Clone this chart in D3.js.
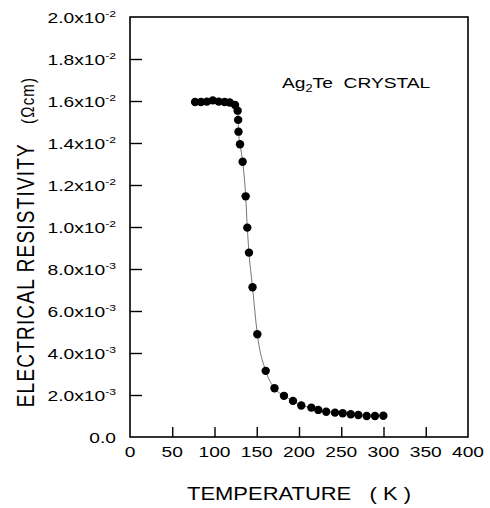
<!DOCTYPE html>
<html>
<head>
<meta charset="utf-8">
<script src="https://cdn.jsdelivr.net/npm/d3@7"></script>
<style>
  html, body { margin: 0; padding: 0; background: #fff; }
  svg text { font-family: "Liberation Sans", Arial, sans-serif; fill: #000; white-space: pre; }
</style>
</head>
<body>
<svg id="chart" width="490" height="508"></svg>
<script>
// temperature (K) and resistivity (ohm cm)
const temps = [77, 84, 91, 98, 105, 112, 118, 124.3, 127.4, 128.0, 128.4, 130.2, 133.3,
  136.9, 138.8, 140.8, 145, 150.7, 160.6, 171, 182.2, 192.9, 202.7, 214.6, 222.8,
  232.2, 242.6, 251.7, 261.2, 270.2, 280.1, 289.9, 299.8];
const rho = [0.01595, 0.01595, 0.01597, 0.01603, 0.01597, 0.01595, 0.01593, 0.01581,
  0.01554, 0.01510, 0.01454, 0.01394, 0.01311, 0.01146, 0.00997, 0.00878, 0.00713,
  0.00489, 0.00315, 0.00232, 0.00196, 0.00172, 0.00150, 0.00140, 0.00129, 0.00120,
  0.00116, 0.00113, 0.00108, 0.00105, 0.00100, 0.00100, 0.00101];

const xTicks = [0, 50, 100, 150, 200, 250, 300, 350, 400];
const yTicks = [0, 0.002, 0.004, 0.006, 0.008, 0.010, 0.012, 0.014, 0.016, 0.018, 0.020];
const yMantissa = ["0.0", "2.0x10", "4.0x10", "6.0x10", "8.0x10", "1.0x10", "1.2x10", "1.4x10", "1.6x10", "1.8x10", "2.0x10"];
const yExp = ["", "-3", "-3", "-3", "-3", "-2", "-2", "-2", "-2", "-2", "-2"];

const plotL = 130, plotR = 468, plotT = 17, plotB = 437;
const stretch = 1.28;   // the original lettering is wide

const svg = d3.select("#chart");

const x = d3.scaleLinear().domain([0, 400]).range([plotL, plotR]);
const y = d3.scaleLinear().domain([0, 0.02]).range([plotB, plotT]);

// frame
svg.append("rect")
  .attr("x", plotL).attr("y", plotT)
  .attr("width", plotR - plotL).attr("height", plotB - plotT)
  .attr("fill", "none").attr("stroke", "#000").attr("stroke-width", 1.6);

// inward ticks
const xAxis = d3.axisBottom(x)
  .tickValues(xTicks.slice(1, -1))
  .tickSizeInner(-10).tickSizeOuter(0)
  .tickFormat("");
svg.append("g").attr("transform", "translate(0," + plotB + ")").call(xAxis)
  .call(g => g.select(".domain").remove())
  .selectAll("line").attr("stroke-width", 1.4);

const yAxis = d3.axisLeft(y)
  .tickValues(yTicks.slice(1, -1))
  .tickSizeInner(-12).tickSizeOuter(0)
  .tickFormat("");
svg.append("g").attr("transform", "translate(" + plotL + ",0)").call(yAxis)
  .call(g => g.select(".domain").remove())
  .selectAll("line").attr("stroke-width", 1.4);

// x tick labels
xTicks.forEach(t => {
  svg.append("g").attr("transform", "translate(" + x(t) + ",457)")
    .append("text")
    .attr("transform", "scale(" + stretch + ",1)")
    .attr("text-anchor", "middle")
    .attr("font-size", 15)
    .text(t);
});

// y tick labels with powers of ten
yTicks.forEach((v, i) => {
  const t = svg.append("g").attr("transform", "translate(116," + (y(v) + 6) + ")")
    .append("text")
    .attr("transform", "scale(" + stretch + ",1)")
    .attr("text-anchor", "end")
    .attr("font-size", 15);
  t.append("tspan").text(yMantissa[i]);
  if (yExp[i]) {
    t.append("tspan").attr("font-size", 9.5).attr("dy", -6.5).text(yExp[i]);
  }
});

// fitted line + points
const line = d3.line()
  .x((d, i) => x(temps[i]))
  .y(d => y(d))
  .curve(d3.curveMonotoneX);
svg.append("path")
  .attr("d", line(rho))
  .attr("fill", "none")
  .attr("stroke", "#666")
  .attr("stroke-width", 0.9);

svg.selectAll(".pt")
  .data(rho)
  .enter().append("circle")
  .attr("class", "pt")
  .attr("cx", (d, i) => x(temps[i]))
  .attr("cy", d => y(d))
  .attr("r", 4.2)
  .attr("fill", "#000");

// sample label
const lab = svg.append("g").attr("transform", "translate(282,88)")
  .append("text")
  .attr("transform", "scale(" + stretch + ",1)")
  .attr("font-size", 15);
lab.append("tspan").text("Ag");
lab.append("tspan").attr("font-size", 10).attr("dy", 4).text("2");
lab.append("tspan").attr("dy", -4).text("Te  CRYSTAL");

// axis titles
svg.append("g").attr("transform", "translate(299,500)")
  .append("text")
  .attr("transform", "scale(1.22,1)")
  .attr("text-anchor", "middle")
  .attr("font-size", 18)
  .text("TEMPERATURE   ( K )");

const yt = svg.append("g").attr("transform", "translate(34,242)")
  .append("text")
  .attr("transform", "scale(1.22,1) rotate(-90)")
  .attr("text-anchor", "middle")
  .attr("letter-spacing", 1.2)
  .attr("font-size", 19);
yt.append("tspan").text("ELECTRICAL RESISTIVITY   ");
yt.append("tspan").attr("font-size", 15).text("(\u03A9cm)");
</script>
</body>
</html>
